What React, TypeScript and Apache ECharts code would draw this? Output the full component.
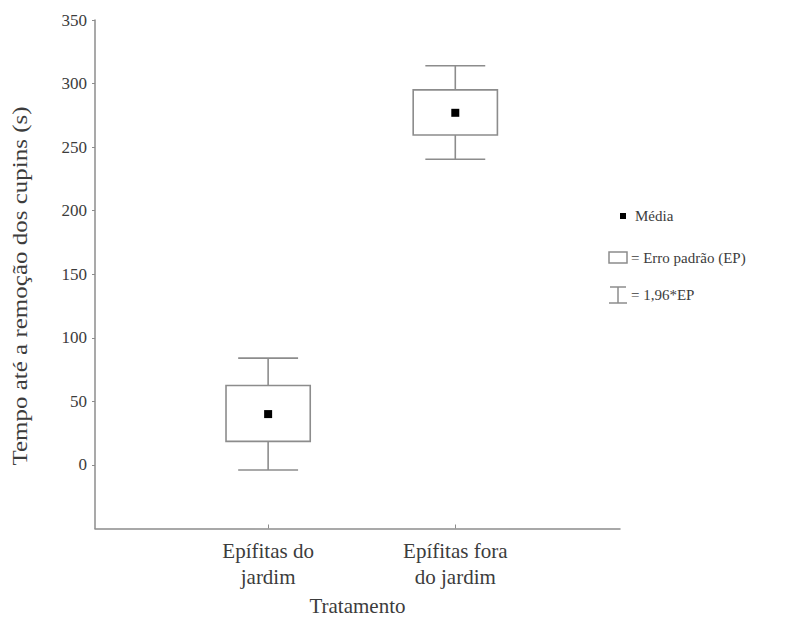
import React, { useEffect, useRef } from "react";
import * as echarts from "echarts";

const categories = ["Epífitas do\njardim", "Epífitas fora\ndo jardim"];
const categoryPositions = [1, 2];
const means = [40, 277];
const seLower = [18.5, 259.5];
const seUpper = [62.5, 295];
const ciLower = [-4, 240.5];
const ciUpper = [84, 314];
const yTicks = [0, 50, 100, 150, 200, 250, 300, 350];
const legendLabels = ["Média", "= Erro padrão (EP)", "= 1,96*EP"];
const xAxisTitle = "Tratamento";
const yAxisTitle = "Tempo até a remoção dos cupins (s)";

const FONT = "Liberation Serif";
const TEXT = "#3c3c3c";
const LINE = "#8c8c8c";

export default function App() {
  const ref = useRef<HTMLDivElement>(null);
  useEffect(() => {
    if (!ref.current) return;
    const chart = echarts.init(ref.current, undefined, { renderer: "svg" });
    const data = categoryPositions.map((x, i) => [
      x,
      means[i],
      seLower[i],
      seUpper[i],
      ciLower[i],
      ciUpper[i],
    ]);
    const option: any = {
      animation: false,
      backgroundColor: "#ffffff",
      textStyle: { fontFamily: FONT },
      grid: { left: 95, right: 188, top: 20, bottom: 95.5, containLabel: false },
      xAxis: {
        type: "value",
        min: 0.075,
        max: 2.88,
        splitLine: { show: false },
        axisLine: { show: true, onZero: false, lineStyle: { color: LINE, width: 1.5 } },
        axisTick: {
          show: true,
          inside: true,
          length: 4,
          customValues: categoryPositions,
          lineStyle: { color: LINE },
        },
        axisLabel: {
          customValues: categoryPositions,
          formatter: (v: number) => categories[categoryPositions.indexOf(Math.round(v))] ?? "",
          color: TEXT,
          fontFamily: FONT,
          fontSize: 21,
          lineHeight: 26,
          margin: 9,
        },
        name: xAxisTitle,
        nameLocation: "middle",
        nameGap: 67,
        nameTextStyle: { color: TEXT, fontFamily: FONT, fontSize: 21 },
      },
      yAxis: {
        type: "value",
        min: -50,
        max: 350,
        interval: 50,
        splitLine: { show: false },
        axisLine: { show: true, onZero: false, lineStyle: { color: LINE, width: 1.5 } },
        axisTick: {
          show: true,
          length: 3,
          customValues: yTicks,
          lineStyle: { color: LINE },
        },
        axisLabel: {
          customValues: yTicks,
          color: TEXT,
          fontFamily: FONT,
          fontSize: 17,
          margin: 8,
        },
      },
      series: [
        {
          type: "custom",
          data,
          encode: { x: 0, y: 1 },
          renderItem: (params: any, api: any) => {
            const x = api.value(0);
            const c = api.coord([x, api.value(1)]);
            const sLo = api.coord([x, api.value(2)]);
            const sHi = api.coord([x, api.value(3)]);
            const cLo = api.coord([x, api.value(4)]);
            const cHi = api.coord([x, api.value(5)]);
            const boxW = api.size([0.45, 0])[0];
            const capW = api.size([0.32, 0])[0];
            const ls = { stroke: LINE, lineWidth: 1.6, fill: null };
            return {
              type: "group",
              children: [
                { type: "line", shape: { x1: c[0], y1: sHi[1], x2: c[0], y2: cHi[1] }, style: ls },
                { type: "line", shape: { x1: c[0], y1: sLo[1], x2: c[0], y2: cLo[1] }, style: ls },
                { type: "line", shape: { x1: c[0] - capW / 2, y1: cHi[1], x2: c[0] + capW / 2, y2: cHi[1] }, style: ls },
                { type: "line", shape: { x1: c[0] - capW / 2, y1: cLo[1], x2: c[0] + capW / 2, y2: cLo[1] }, style: ls },
                {
                  type: "rect",
                  shape: { x: c[0] - boxW / 2, y: sHi[1], width: boxW, height: sLo[1] - sHi[1] },
                  style: { stroke: LINE, lineWidth: 1.6, fill: "none" },
                },
                {
                  type: "rect",
                  shape: { x: c[0] - 4, y: c[1] - 4, width: 8, height: 8 },
                  style: { fill: "#000000" },
                },
              ],
            };
          },
        },
      ],
      graphic: [
        {
          type: "text",
          x: 20,
          y: 286,
          rotation: Math.PI / 2,
          scaleX: 1.25,
          style: {
            text: yAxisTitle,
            fill: TEXT,
            font: `20px "${FONT}"`,
            align: "center",
            verticalAlign: "middle",
          },
        },
        { type: "rect", shape: { x: 620, y: 213, width: 6, height: 6 }, style: { fill: "#000" } },
        {
          type: "text",
          x: 635,
          y: 216,
          style: { text: legendLabels[0], fill: TEXT, font: `15px "${FONT}"`, verticalAlign: "middle" },
        },
        {
          type: "rect",
          shape: { x: 609, y: 252, width: 18, height: 11 },
          style: { stroke: LINE, lineWidth: 1.5, fill: "none" },
        },
        {
          type: "text",
          x: 631,
          y: 258,
          style: { text: legendLabels[1], fill: TEXT, font: `15px "${FONT}"`, verticalAlign: "middle" },
        },
        { type: "line", shape: { x1: 610, y1: 287, x2: 626, y2: 287 }, style: { stroke: LINE, lineWidth: 1.5 } },
        { type: "line", shape: { x1: 618, y1: 287, x2: 618, y2: 303 }, style: { stroke: LINE, lineWidth: 1.5 } },
        { type: "line", shape: { x1: 609, y1: 303, x2: 627, y2: 303 }, style: { stroke: LINE, lineWidth: 1.5 } },
        {
          type: "text",
          x: 631,
          y: 295,
          style: { text: legendLabels[2], fill: TEXT, font: `15px "${FONT}"`, verticalAlign: "middle" },
        },
      ],
    };
    chart.setOption(option);
    return () => chart.dispose();
  }, []);
  return (
    <div
      ref={ref}
      style={{ position: "absolute", left: 0, top: 0, width: 808, height: 624 }}
    />
  );
}
